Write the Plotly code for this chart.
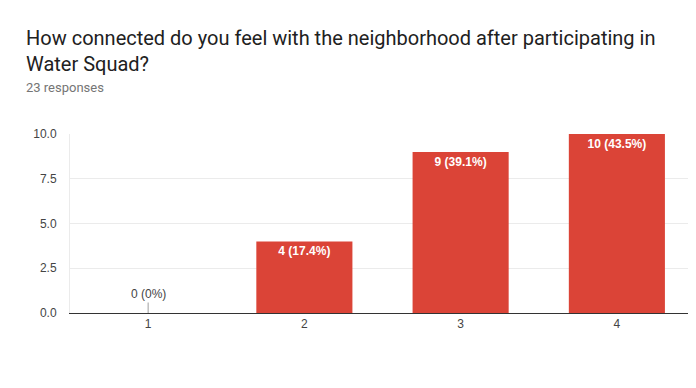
import plotly.graph_objects as go

categories = ["1", "2", "3", "4"]
counts = [0, 4, 9, 10]
total_responses = 23
y_ticks = [0, 2.5, 5, 7.5, 10]
y_tick_labels = ["0.0", "2.5", "5.0", "7.5", "10.0"]

title_text = "How connected do you feel with the neighborhood after participating in<br>Water Squad?"
subtitle_text = f"{total_responses} responses"

def fmt_pct(c):
    p = c / total_responses * 100
    if p == 0:
        return "0%"
    return f"{p:.1f}%"

labels = [f"{c} ({fmt_pct(c)})" for c in counts]
bar_text = [lab if c > 0 else "" for lab, c in zip(labels, counts)]

fig = go.Figure()
fig.add_trace(go.Bar(
    x=categories, y=counts,
    marker=dict(color="#DB4437", line=dict(width=0)),
    text=bar_text, textposition="inside", insidetextanchor="end",
    textfont=dict(family="Liberation Sans", size=12, color="white", weight="bold"),
    constraintext="none", cliponaxis=False,
    hoverinfo="skip",
))

annotations = []
for i, (cat, c, lab) in enumerate(zip(categories, counts, labels)):
    if c == 0:
        annotations.append(dict(
            x=i, y=0, xref="x", yref="y", text=lab, showarrow=True,
            arrowhead=0, arrowwidth=1, arrowcolor="#9e9e9e", ax=0, ay=-19,
            standoff=0, startstandoff=0,
            font=dict(family="Liberation Sans", size=12, color="#444444"),
        ))

OFF = 8  # page body margin
W, H = 696 - OFF, 388 - OFF
ml = 70 - OFF
mr = W + OFF - 695
mt = 134 - OFF
mb = 388 - 313
pw = W - ml - mr
ph = H - mt - mb
plot_bottom_abs = 313

def px_x(x_abs):
    return (x_abs - 70) / pw

def px_y(y_abs):
    return (plot_bottom_abs - y_abs) / ph

annotations.append(dict(
    x=px_x(24), y=px_y(24), xref="paper", yref="paper",
    xanchor="left", yanchor="top", align="left", showarrow=False,
    text=title_text, font=dict(family="Roboto", size=20, color="#212121"),
))
annotations.append(dict(
    x=px_x(24), y=px_y(88), xref="paper", yref="paper",
    xanchor="left", yanchor="middle", align="left", showarrow=False,
    text=subtitle_text, font=dict(family="Roboto", size=13, color="#757575"),
))

fig.update_layout(
    width=W, height=H,
    margin=dict(l=ml, r=mr, t=mt, b=mb),
    paper_bgcolor="white", plot_bgcolor="white",
    bargap=0.385,
    showlegend=False,
    annotations=annotations,
    font=dict(family="Liberation Sans", size=12, color="#444444"),
    xaxis=dict(
        type="category", range=[-0.5, 3.5],
        showgrid=False, showline=True, linecolor="#333333", linewidth=1,
        ticks="", tickfont=dict(size=12, color="#444444"),
        mirror=False, fixedrange=True,
    ),
    yaxis=dict(
        range=[0, 10], tickvals=y_ticks, ticktext=y_tick_labels,
        showgrid=True, gridcolor="#ebebeb", gridwidth=1,
        zeroline=False, showline=True, linecolor="#ebebeb", mirror=True,
        ticks="", ticklabelstandoff=10,
        tickfont=dict(size=12, color="#444444"),
        fixedrange=True,
    ),
)

fig.write_html("out.html")
